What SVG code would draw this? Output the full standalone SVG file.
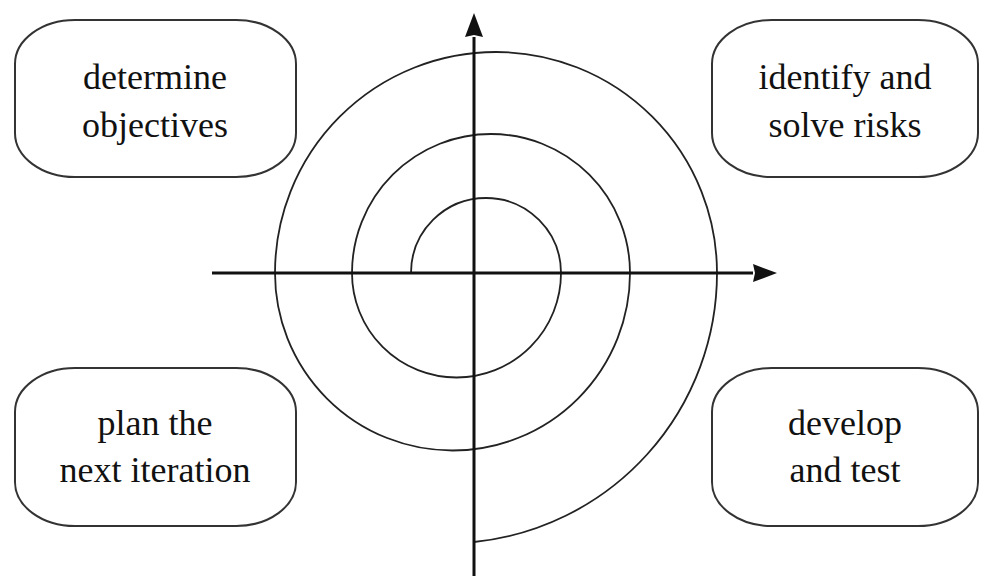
<svg xmlns="http://www.w3.org/2000/svg" width="982" height="576" viewBox="0 0 982 576">
<style>
.box{fill:#fff;stroke:#333;stroke-width:2}
.lbl{font-family:"Liberation Serif","Times New Roman",serif;font-size:36px;fill:#111;text-anchor:middle}
.axis{stroke:#111;stroke-width:3;fill:none}
.spiral{stroke:#222;stroke-width:1.8;fill:none}
</style>
<defs>
<marker id="arr" viewBox="0 0 24 18" refX="0" refY="9" markerWidth="24" markerHeight="18" markerUnits="userSpaceOnUse" orient="auto">
<path d="M0,0 L24,9 L0,18 L2,9 Z" fill="#111"/>
</marker>
</defs>
<rect width="982" height="576" fill="#fff"/>
<g id="connectors">
<path class="spiral" d="M 411 273 A 75 75 0 0 1 561 273 A 104.5 104.5 0 0 1 352 273 A 139 139 0 0 1 630 273 A 177.5 177.5 0 0 1 275 273 A 221 221 0 0 1 717 273 A 270.4 270.4 0 0 1 474 542"/>
<line class="axis" x1="212" y1="273" x2="753" y2="273" marker-end="url(#arr)"/>
<line class="axis" x1="474" y1="576" x2="474" y2="37" marker-end="url(#arr)"/>
</g>
<g id="objectives">
<rect class="box" x="15" y="20" width="281" height="157" rx="60" ry="44"/>
<text class="lbl" x="155" y="89">determine</text>
<text class="lbl" x="155" y="137">objectives</text>
</g>
<g id="risks">
<rect class="box" x="712" y="20" width="266" height="157" rx="60" ry="44"/>
<text class="lbl" x="845" y="89">identify and</text>
<text class="lbl" x="845" y="137">solve risks</text>
</g>
<g id="plan">
<rect class="box" x="15" y="368" width="281" height="158" rx="60" ry="44"/>
<text class="lbl" x="155" y="435">plan the</text>
<text class="lbl" x="155" y="482">next iteration</text>
</g>
<g id="develop">
<rect class="box" x="712" y="368" width="266" height="158" rx="60" ry="44"/>
<text class="lbl" x="845" y="435">develop</text>
<text class="lbl" x="845" y="482">and test</text>
</g>
</svg>
